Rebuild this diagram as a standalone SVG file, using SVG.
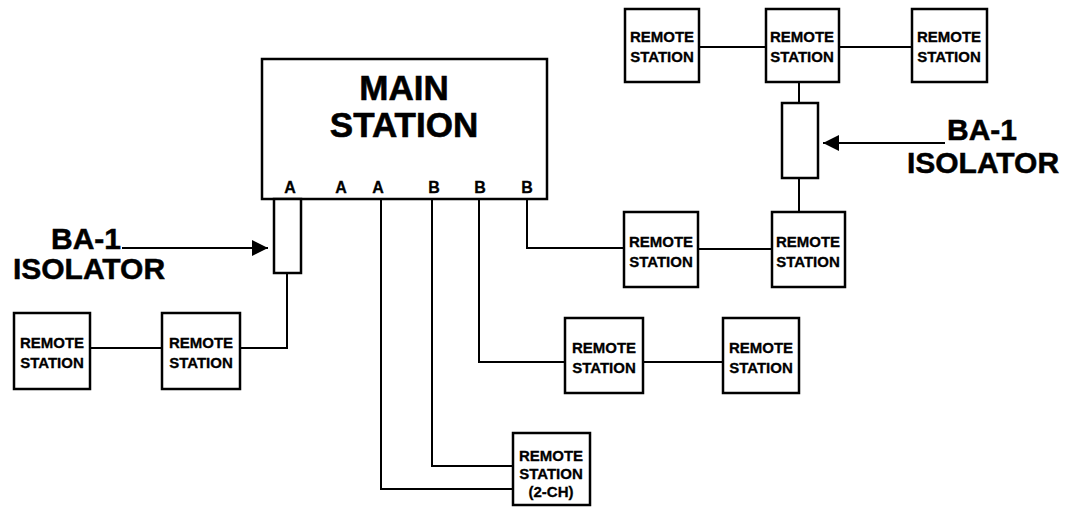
<svg xmlns="http://www.w3.org/2000/svg" width="1065" height="508" viewBox="0 0 1065 508">
<style>
.box{fill:#fff;stroke:#000;stroke-width:2.5}
.ln{fill:none;stroke:#000;stroke-width:2}
.t{font-family:"Liberation Sans",Arial,sans-serif;font-weight:bold;fill:#000;text-anchor:middle;stroke:#000;stroke-width:0.3}
.rs{font-size:15px}
.big{font-size:35px;stroke-width:0.6}
.lbl{font-size:30px;stroke-width:0.5}
.port{font-size:16px}
</style>
<defs>
<marker id="ah" viewBox="0 0 10 10" refX="10" refY="5" markerWidth="18" markerHeight="16" markerUnits="userSpaceOnUse" orient="auto">
<path d="M0,0 L10,5 L0,10 z" fill="#000"/>
</marker>
</defs>
<g id="connectors">
<polyline class="ln" points="287,273 287,348 240,348"/>
<line class="ln" x1="90" y1="348" x2="162" y2="348"/>
<line class="ln" x1="699" y1="47" x2="766" y2="47"/>
<line class="ln" x1="839" y1="47" x2="912" y2="47"/>
<line class="ln" x1="799" y1="82" x2="799" y2="103"/>
<line class="ln" x1="799" y1="178" x2="799" y2="212"/>
<polyline class="ln" points="527,199 527,248 624,248"/>
<line class="ln" x1="698" y1="249" x2="772" y2="249"/>
<polyline class="ln" points="479,199 479,362 565,362"/>
<line class="ln" x1="643" y1="362" x2="723" y2="362"/>
<polyline class="ln" points="432,199 432,466 513,466"/>
<polyline class="ln" points="381,199 381,489 513,489"/>
<line class="ln" x1="122" y1="248" x2="268" y2="248" marker-end="url(#ah)"/>
<line class="ln" x1="945" y1="143" x2="823" y2="143" marker-end="url(#ah)"/>
</g>
<g id="main-station">
<rect class="box" x="262" y="59" width="285" height="140"/>
<text class="t big" x="404" y="100">MAIN</text>
<text class="t big" x="404" y="137">STATION</text>
<text class="t port" x="290" y="193">A</text>
<text class="t port" x="341" y="193">A</text>
<text class="t port" x="378" y="193">A</text>
<text class="t port" x="434" y="193">B</text>
<text class="t port" x="480" y="193">B</text>
<text class="t port" x="527" y="193">B</text>
</g>
<g id="isolator-left">
<rect class="box" x="274" y="199" width="27" height="74"/>
</g>
<g id="isolator-right">
<rect class="box" x="782" y="103" width="36" height="75"/>
</g>
<g id="label-left">
<text class="t lbl" x="86" y="249">BA-1</text>
<text class="t lbl" x="89" y="279">ISOLATOR</text>
</g>
<g id="label-right">
<text class="t lbl" x="982" y="140">BA-1</text>
<text class="t lbl" x="983" y="173">ISOLATOR</text>
</g>
<g id="rs-left-1">
<rect class="box" x="14" y="313" width="76" height="76"/>
<text class="t rs" x="52" y="348">REMOTE</text>
<text class="t rs" x="52" y="368">STATION</text>
</g>
<g id="rs-left-2">
<rect class="box" x="162" y="313" width="78" height="76"/>
<text class="t rs" x="201" y="348">REMOTE</text>
<text class="t rs" x="201" y="368">STATION</text>
</g>
<g id="rs-top-1">
<rect class="box" x="625" y="9" width="74" height="73"/>
<text class="t rs" x="662" y="42">REMOTE</text>
<text class="t rs" x="662" y="62">STATION</text>
</g>
<g id="rs-top-2">
<rect class="box" x="766" y="9" width="73" height="73"/>
<text class="t rs" x="802" y="42">REMOTE</text>
<text class="t rs" x="802" y="62">STATION</text>
</g>
<g id="rs-top-3">
<rect class="box" x="912" y="9" width="75" height="73"/>
<text class="t rs" x="949" y="42">REMOTE</text>
<text class="t rs" x="949" y="62">STATION</text>
</g>
<g id="rs-mid-1">
<rect class="box" x="624" y="212" width="74" height="75"/>
<text class="t rs" x="661" y="247">REMOTE</text>
<text class="t rs" x="661" y="267">STATION</text>
</g>
<g id="rs-mid-2">
<rect class="box" x="772" y="212" width="73" height="75"/>
<text class="t rs" x="808" y="247">REMOTE</text>
<text class="t rs" x="808" y="267">STATION</text>
</g>
<g id="rs-low-1">
<rect class="box" x="565" y="318" width="78" height="75"/>
<text class="t rs" x="604" y="353">REMOTE</text>
<text class="t rs" x="604" y="373">STATION</text>
</g>
<g id="rs-low-2">
<rect class="box" x="723" y="318" width="76" height="75"/>
<text class="t rs" x="761" y="353">REMOTE</text>
<text class="t rs" x="761" y="373">STATION</text>
</g>
<g id="rs-2ch">
<rect class="box" x="513" y="433" width="77" height="72"/>
<text class="t rs" x="551" y="461">REMOTE</text>
<text class="t rs" x="551" y="479">STATION</text>
<text class="t rs" x="551" y="497">(2-CH)</text>
</g>
</svg>
